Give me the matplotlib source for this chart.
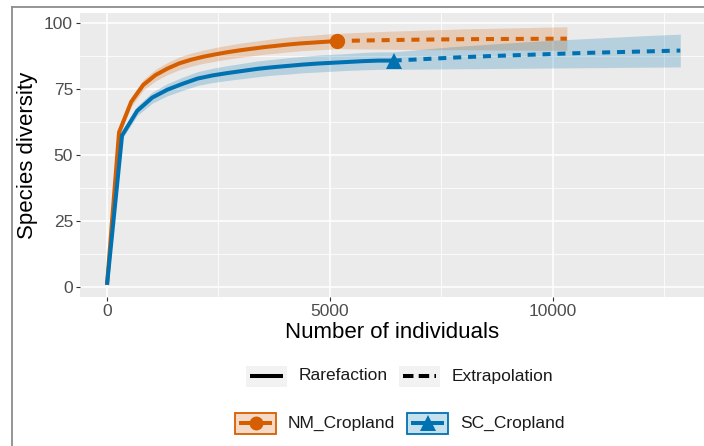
import numpy as np
import matplotlib
matplotlib.use("Agg")
import matplotlib.pyplot as plt
from matplotlib.lines import Line2D
from matplotlib.patches import Rectangle

plt.rcParams['font.family'] = ['Liberation Sans', 'DejaVu Sans']

# rarefaction curves (interpolated part, up to the observed sample size)
nm_x = [1, 271, 543, 814, 1086, 1357, 1628, 1900, 2171, 2443, 2714, 2986,
        3257, 3528, 3800, 4071, 4343, 4614, 4886, 5157]
nm_y = [1.0, 58.7, 70.2, 76.6, 80.3, 82.8, 84.8, 86.2, 87.3, 88.2, 89.0, 89.7,
        90.3, 90.9, 91.4, 91.9, 92.3, 92.6, 92.9, 93.2]
nm_lo = [1.0, 57.3, 68.4, 74.6, 78.1, 80.5, 82.4, 83.7, 84.8, 85.6, 86.4, 87.0,
         87.6, 88.2, 88.6, 89.1, 89.5, 89.8, 90.0, 90.3]
nm_hi = [1.0, 60.1, 72.0, 78.6, 82.5, 85.1, 87.2, 88.7, 89.8, 90.8, 91.6, 92.4,
         93.0, 93.6, 94.2, 94.7, 95.1, 95.4, 95.8, 96.1]

sc_x = [1, 338, 677, 1015, 1354, 1692, 2030, 2369, 2707, 3046, 3384, 3722,
        4061, 4399, 4738, 5076, 5414, 5753, 6091, 6429]
sc_y = [1.0, 57.5, 66.8, 71.8, 74.8, 77.0, 79.0, 80.2, 81.1, 81.9, 82.7, 83.3,
        83.8, 84.3, 84.7, 85.0, 85.3, 85.6, 85.8, 85.8]
sc_lo = [1.0, 56.2, 65.0, 69.7, 72.5, 74.5, 76.4, 77.5, 78.3, 79.0, 79.7, 80.3,
         80.7, 81.2, 81.5, 81.8, 82.1, 82.3, 82.5, 82.5]
sc_hi = [1.0, 58.8, 68.6, 73.9, 77.1, 79.5, 81.6, 82.9, 83.9, 84.8, 85.7, 86.3,
         86.9, 87.4, 87.9, 88.2, 88.5, 88.9, 89.1, 89.1]

# extrapolation up to twice the observed sample size
nm_ext_x = [5157, 5730, 6303, 6876, 7449, 8022, 8595, 9168, 9741, 10314]
nm_ext_y = [93.2, 93.4, 93.55, 93.7, 93.8, 93.9, 93.95, 94.0, 94.05, 94.1]
nm_ext_lo = [90.3, 90.2, 90.1, 90.0, 89.9, 89.9, 89.8, 89.8, 89.7, 89.7]
nm_ext_hi = [96.1, 96.5, 96.9, 97.2, 97.5, 97.8, 98.0, 98.2, 98.4, 98.6]

sc_ext_x = [6429, 7143, 7858, 8572, 9286, 10001, 10715, 11429, 12144, 12858]
sc_ext_y = [85.8, 86.4, 87.0, 87.5, 87.9, 88.3, 88.7, 89.0, 89.3, 89.6]
sc_ext_lo = [82.5, 82.6, 82.7, 82.8, 82.9, 83.0, 83.1, 83.2, 83.3, 83.4]
sc_ext_hi = [89.1, 90.2, 91.2, 92.0, 92.8, 93.5, 94.1, 94.7, 95.3, 95.8]

sites = ['NM_Cropland', 'SC_Cropland']
colors = ['#D55E00', '#0072B2']
markers = ['o', '^']
x_ticks = [0, 5000, 10000]
y_ticks = [0, 25, 50, 75, 100]

W, H = 704, 446
fig = plt.figure(figsize=(W / 100, H / 100), dpi=100)


def fx(x):
    return x / W


def fy(y):
    return 1 - y / H


# panel
ax = fig.add_axes([fx(80), fy(297), fx(704) - fx(80), fy(13) - fy(297)])
ax.set_facecolor('#EBEBEB')
ax.set_xlim(-605, 13390)
ax.set_ylim(-3.6, 103.8)
ax.set_xticks(x_ticks)
ax.set_yticks(y_ticks)
ax.set_xticks([2500, 7500, 12500], minor=True)
ax.set_yticks([12.5, 37.5, 62.5, 87.5], minor=True)
ax.grid(which='major', color='white', lw=1.1)
ax.grid(which='minor', color='white', lw=0.55)
ax.set_axisbelow(True)
for s in ax.spines.values():
    s.set_visible(False)
ax.tick_params(which='major', length=3, width=0.8, color='#333333',
               labelcolor='#4D4D4D', labelsize=12.5, pad=2)
ax.tick_params(which='minor', length=0)

series = [
    (nm_x, nm_y, nm_lo, nm_hi, nm_ext_x, nm_ext_y, nm_ext_lo, nm_ext_hi),
    (sc_x, sc_y, sc_lo, sc_hi, sc_ext_x, sc_ext_y, sc_ext_lo, sc_ext_hi),
]
lw = 2.9
for (x, y, lo, hi, ex, ey, elo, ehi), col, mk in zip(series, colors, markers):
    ax.fill_between(x + ex[1:], lo + elo[1:], hi + ehi[1:], color=col,
                    alpha=0.22, lw=0)
    ax.plot(x, y, color=col, lw=lw, solid_capstyle='butt')
    ax.plot(ex, ey, color=col, lw=lw, dashes=(2.0, 1.7), dash_capstyle='butt')
    ax.plot(x[-1], y[-1], marker=mk, color=col, ms=11 if mk == 'o' else 12,
            mew=0)

ax.set_xlabel('Number of individuals', fontsize=16, labelpad=2)
ax.set_ylabel('Species diversity', fontsize=16, labelpad=4)

# legends drawn below the panel
key_w, key_h = 41, 21


def key_box(x0, yc, face, edge=None, alpha=1.0):
    fig.add_artist(Rectangle((fx(x0), fy(yc + key_h / 2)), key_w / W, key_h / H,
                             transform=fig.transFigure, facecolor=face,
                             alpha=alpha, lw=0))
    if edge is not None:
        fig.add_artist(Rectangle((fx(x0), fy(yc + key_h / 2)), key_w / W,
                                 key_h / H, transform=fig.transFigure,
                                 facecolor='none', edgecolor=edge, lw=1.3))


def key_line(x0, yc, col, dashed=False, marker=None):
    ln = Line2D([fx(x0 + 4), fx(x0 + key_w - 4)], [fy(yc), fy(yc)],
                transform=fig.transFigure, color=col, lw=lw,
                solid_capstyle='butt', dash_capstyle='butt')
    if dashed:
        ln.set_dashes((2.6, 1.3))
    fig.add_artist(ln)
    if marker is not None:
        fig.add_artist(Line2D([fx(x0 + key_w / 2)], [fy(yc)],
                              transform=fig.transFigure, color=col,
                              marker=marker, ms=10 if marker == 'o' else 11,
                              mew=0, lw=0))


row1 = 376
key_box(246, row1, '#F2F2F2')
key_line(246, row1, 'black')
fig.text(fx(299), fy(row1), 'Rarefaction', fontsize=12.5, va='center',
         color='#1A1A1A')
key_box(399, row1, '#F2F2F2')
key_line(399, row1, 'black', dashed=True)
fig.text(fx(452), fy(row1), 'Extrapolation', fontsize=12.5, va='center',
         color='#1A1A1A')

row2 = 423
for x0, name, col, mk in zip([235, 407], sites, colors, markers):
    key_box(x0, row2, col, edge=None, alpha=0.22)
    key_box(x0, row2, 'none', edge=col)
    key_line(x0, row2, col, marker=mk)
    fig.text(fx(x0 + 53), fy(row2), name, fontsize=12.5, va='center',
             color='#1A1A1A')

# outer frame (top and left edges)
fig.add_artist(Line2D([fx(12), 1], [fy(7), fy(7)], transform=fig.transFigure,
                      color='#8C8C8C', lw=1.3))
fig.add_artist(Line2D([fx(12), fx(12)], [fy(7), 0], transform=fig.transFigure,
                      color='#8C8C8C', lw=1.3))

fig.savefig('out.png', dpi=100)
